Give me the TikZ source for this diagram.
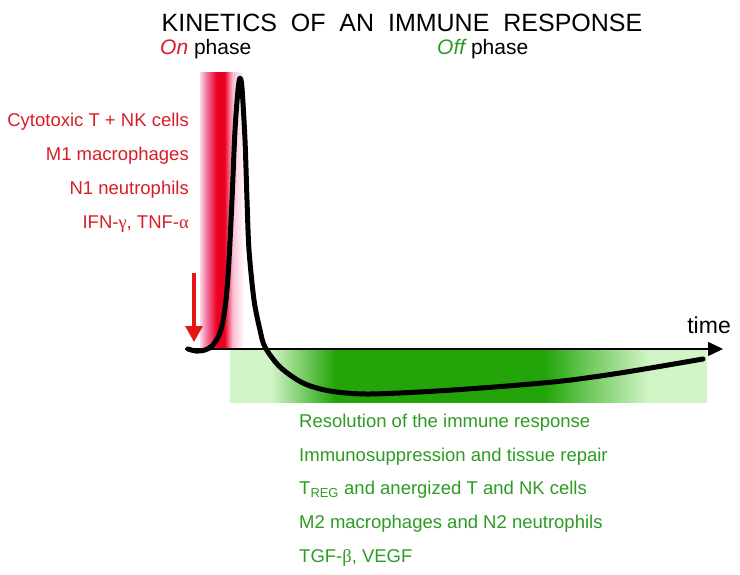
\documentclass[tikz,border=0pt]{standalone}
\usepackage{fontspec}
\setmainfont{Liberation Sans}
\newfontfamily\greekfont{Liberation Serif}
\usepackage{tikz}
\usetikzlibrary{arrows.meta}
\definecolor{oncolor}{RGB}{215,30,40}
\definecolor{offcolor}{RGB}{45,155,35}
\definecolor{stimred}{RGB}{230,20,20}
\definecolor{onred}{RGB}{235,0,35}
\definecolor{onpink}{RGB}{242,110,155}
\definecolor{onlight}{RGB}{250,190,212}
\definecolor{onpale}{RGB}{250,215,230}
\definecolor{offdark}{RGB}{35,165,10}
\definecolor{offmid}{RGB}{110,200,90}
\definecolor{offpale}{RGB}{210,245,200}
\pgfdeclarehorizontalshading{onband}{100bp}{color(0bp)=(onpale); color(25bp)=(onpale); color(33bp)=(onpink); color(44bp)=(onred); color(53bp)=(onred); color(62bp)=(onlight); color(75bp)=(white); color(100bp)=(white)}
\pgfdeclarehorizontalshading{offband}{100bp}{color(0bp)=(offpale); color(25bp)=(offpale); color(29.2bp)=(offpale); color(36bp)=(offdark); color(58bp)=(offdark); color(62.5bp)=(offmid); color(69bp)=(offpale); color(100bp)=(offpale)}

\begin{document}
\begin{tikzpicture}[x=1pt, y=-1pt,
    onlab/.style={anchor=base east, font=\fontsize{18.5}{20}\selectfont, text=oncolor, inner sep=0pt},
    offlab/.style={anchor=base west, font=\fontsize{18.5}{20}\selectfont, text=offcolor, inner sep=0pt},
    phase/.style={anchor=base west, font=\fontsize{21}{24}\selectfont, inner sep=0pt},
    curve/.style={line width=5pt, line join=round, line cap=round},
]
    \useasboundingbox (0,0) rectangle (740,575);
    % Phase bands
    \shade[shading=onband] (200,73) rectangle (244,349);
    \shade[shading=offband] (230,350) rectangle (707,402);
    % Title and phases
    \node[anchor=base, font=\fontsize{25}{28}\selectfont, inner sep=0pt] (title) at (402,32)
        {KINETICS\ \ OF\ \ AN\ \ IMMUNE\ \ RESPONSE};
    \node[phase] (onphase) at (160,55) {\textcolor{oncolor}{\itshape On} phase};
    \node[phase] (offphase) at (437,55) {\textcolor{offcolor}{\itshape Off} phase};
    % On labels
    \foreach \txt [count=\i] in {Cytotoxic T + NK cells, M1 macrophages, N1 neutrophils,
        {IFN-{\greekfont γ}, TNF-{\greekfont α}}} {
        \node[onlab] (on\i) at (189, 93.3+\i*33.7) {\txt};
    }
    % Off labels
    \foreach \txt [count=\i] in {Resolution of the immune response, Immunosuppression and tissue repair,
        T\textsubscript{REG} and anergized T and NK cells, M2 macrophages and N2 neutrophils,
        {TGF-{\greekfont β}, VEGF}} {
        \node[offlab] (off\i) at (299, 393.5+\i*33.8) {\txt};
    }
    % Time axis
    \coordinate (t0) at (185,349);
    \coordinate (t1) at (723,349);
    \draw[line width=1.5pt, -{Triangle[length=15pt,width=14pt]}] (t0) -- (t1);
    \node[anchor=base east, font=\fontsize{23}{26}\selectfont, inner sep=0pt] (time) at (731,334) {time};
    % Stimulus
    \coordinate (s0) at (194,273);
    \coordinate (s1) at (194,342);
    \draw[stimred, line width=3.2pt, -{Triangle[length=16pt,width=17pt]}] (s0) -- (s1);
    % Response curve
    \draw[curve] plot[smooth, tension=0.5] coordinates {(188,349) (196,351) (205,350) (213,345)
        (221,330) (226,300) (229,260) (232,200) (235,130) (238,90) (240,78) (242,88) (245,140)
        (247,200) (249,250) (254,300) (260,330) (265,347) (280,367) (303,383) (330,391) (370,394)
        (453,390) (553,382) (620,373) (703,359)};
\end{tikzpicture}
\end{document}
